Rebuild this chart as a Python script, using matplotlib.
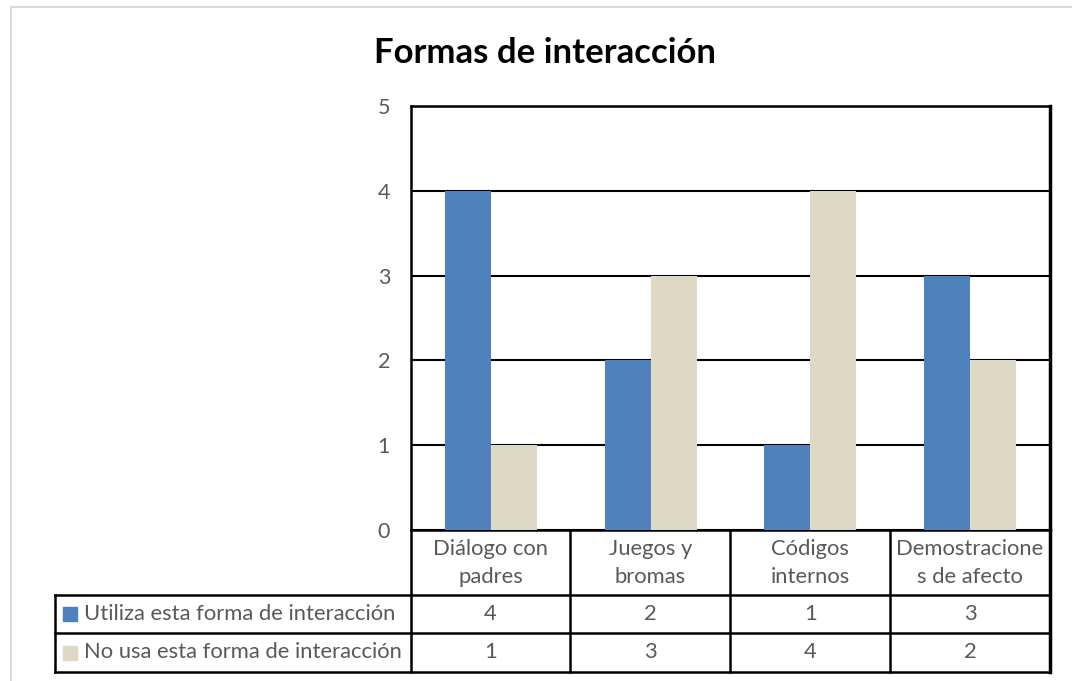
import matplotlib.pyplot as plt
import matplotlib.patches as mpatches
import numpy as np

plt.rcParams['font.family'] = ['Lato', 'DejaVu Sans']

categories = ["Diálogo con\npadres", "Juegos y\nbromas", "Códigos\ninternos", "Demostracione\ns de afecto"]
series_names = ["Utiliza esta forma de interacción", "No usa esta forma de interacción"]
utiliza = [4, 2, 1, 3]
no_usa = [1, 3, 4, 2]
yticks = [0, 1, 2, 3, 4, 5]

blue = "#4F81BD"
beige = "#DDD9C4"
grey_txt = "#595959"

W, H = 1072, 681
fig = plt.figure(figsize=(W / 100, H / 100), dpi=100)

def px_axes(x0, y0, x1, y1):
    # pixel box (top-left origin) -> figure fraction axes
    return fig.add_axes([x0 / W, 1 - y1 / H, (x1 - x0) / W, (y1 - y0) / H])

# light grey chart border
border = fig.add_axes([0, 0, 1, 1], zorder=-5)
border.set_xlim(0, W)
border.set_ylim(H, 0)
border.axis("off")
border.plot([11, 11, W], [H, 7, 7], color="#D9D9D9", lw=1.5)

# ---- main bar chart ----
ax = px_axes(411, 106, 1050, 530)
x = np.arange(len(categories))
bw = 0.2875
ax.bar(x - bw / 2, utiliza, bw, color=blue, zorder=3)
ax.bar(x + bw / 2, no_usa, bw, color=beige, zorder=3)
ax.set_xlim(-0.5, len(categories) - 0.5)
ax.set_ylim(0, 5)
ax.set_yticks(yticks)
ax.set_yticklabels([str(t) for t in yticks], fontsize=15.5, color=grey_txt)
ax.tick_params(axis="y", length=0, pad=15)
ax.set_xticks([])
ax.yaxis.grid(True, color="black", lw=1.5, zorder=1)
for s in ax.spines.values():
    s.set_linewidth(1.8)
    s.set_color("black")
ax.spines["right"].set_linewidth(2.5)

fig.text(545 / W, 1 - 53 / H, "Formas de interacción", ha="center", va="center",
         fontsize=25, fontweight="bold", color="black")

# ---- data table below ----
tab = px_axes(55, 530, 1050, 672)
left_x = -0.5 - (411 - 55) / 160
tab.set_xlim(left_x, len(categories) - 0.5)
tab.set_ylim(142, 0)
tab.axis("off")
rows_y = [0, 65, 103, 142]
lw = 1.8
# vertical lines of data columns
for xv in np.arange(len(categories) + 1) - 0.5:
    tab.plot([xv, xv], [0, 142], color="black", lw=lw if xv < len(categories) - 0.6 else 2.5,
             solid_capstyle="projecting", clip_on=False)
tab.plot([left_x, left_x], [rows_y[1], rows_y[3]], color="black", lw=lw, clip_on=False)
for yv in rows_y[1:]:
    tab.plot([left_x, len(categories) - 0.5], [yv, yv], color="black", lw=lw, clip_on=False)

fs = 15.8
for i, c in enumerate(categories):
    tab.text(i, rows_y[1] / 2 + 0.5, c, ha="center", va="center", fontsize=fs,
             color=grey_txt, linespacing=1.55)
    tab.text(i, (rows_y[1] + rows_y[2]) / 2, str(utiliza[i]), ha="center", va="center",
             fontsize=fs, color=grey_txt)
    tab.text(i, (rows_y[2] + rows_y[3]) / 2, str(no_usa[i]), ha="center", va="center",
             fontsize=fs, color=grey_txt)

for r, (name, col) in enumerate(zip(series_names, [blue, beige])):
    yc = (rows_y[r + 1] + rows_y[r + 2]) / 2
    tab.add_patch(mpatches.Rectangle((left_x + 0.05, yc - 7), 0.09, 14, color=col, clip_on=False))
    tab.text(left_x + 0.18, yc, name, ha="left", va="center", fontsize=fs, color=grey_txt)

fig.savefig("out.png", dpi=100)
